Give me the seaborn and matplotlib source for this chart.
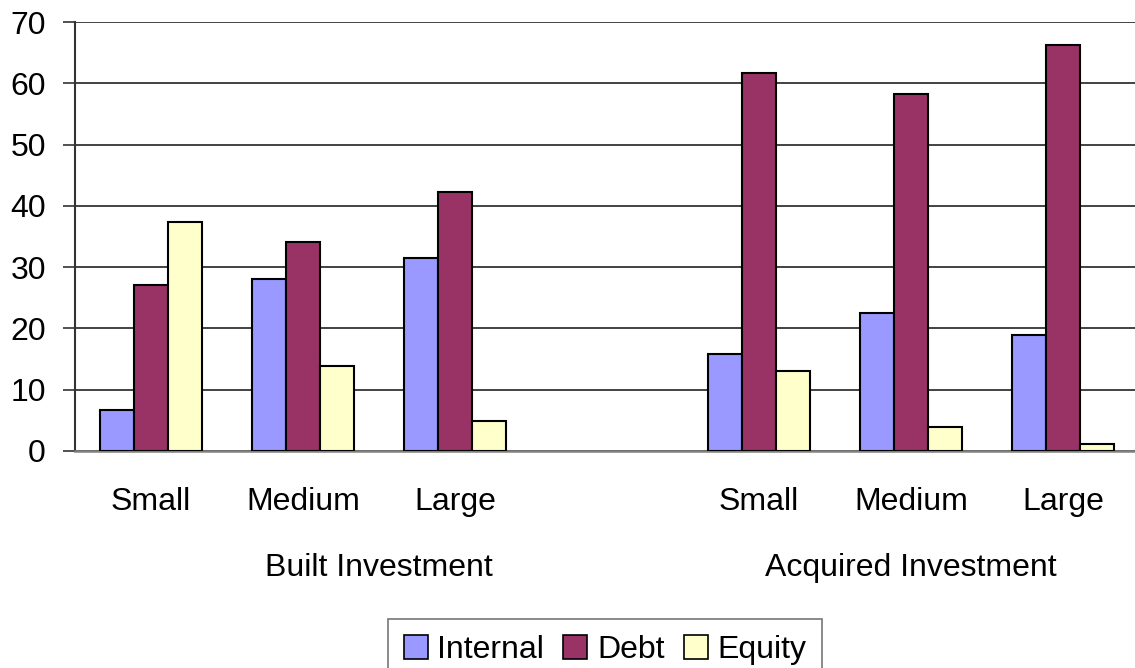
import numpy as np
import pandas as pd
import matplotlib
matplotlib.use('Agg')
import matplotlib.pyplot as plt
import matplotlib.transforms as mtransforms
import seaborn as sns

# data
sizes = ['Small', 'Medium', 'Large']
groups = ['Built Investment', 'Acquired Investment']
sources = ['Internal', 'Debt', 'Equity']
built_internal = [6.7, 28.0, 31.5]
built_debt = [27.1, 34.1, 42.2]
built_equity = [37.4, 13.8, 4.9]
acq_internal = [15.8, 22.5, 19.0]
acq_debt = [61.7, 58.2, 66.2]
acq_equity = [13.0, 3.9, 1.2]

colors = ['#9999FF', '#993366', '#FFFFCC']

rows = []
for grp, vals in zip(groups, [(built_internal, built_debt, built_equity),
                              (acq_internal, acq_debt, acq_equity)]):
    for src, series in zip(sources, vals):
        for size, v in zip(sizes, series):
            rows.append({'cat': f'{grp} {size}', 'source': src, 'value': v})
df = pd.DataFrame(rows)

# blank slot between the two groups, like the original
order = [f'Built Investment {s}' for s in sizes] + ['gap'] + \
        [f'Acquired Investment {s}' for s in sizes]

sns.set_style('white')
plt.rcParams['font.family'] = ['Liberation Sans', 'DejaVu Sans']
plt.rcParams['text.color'] = 'black'
plt.rcParams['xtick.labelcolor'] = 'black'
plt.rcParams['ytick.labelcolor'] = 'black'

fig = plt.figure(figsize=(11.35, 6.68), dpi=100)
ax = fig.add_axes([75 / 1135, 1 - 451 / 668, 1064 / 1135, 429 / 668])

sns.barplot(data=df, x='cat', y='value', hue='source', order=order,
            hue_order=sources, palette=colors, saturation=1, width=0.67, gap=0,
            edgecolor='black', linewidth=1.5, ax=ax, legend=False, zorder=3)

ax.set_ylim(0, 70)
ax.set_yticks(np.arange(0, 71, 10))
ax.set_xlim(-0.5, 6.5)
ax.yaxis.grid(True, color='#222222', linewidth=1.2, zorder=0)
ax.set_axisbelow(True)
for s in ['top', 'right']:
    ax.spines[s].set_visible(False)
ax.spines['left'].set_color('#333333')
ax.spines['left'].set_linewidth(1.5)
ax.spines['bottom'].set_color('#808080')
ax.spines['bottom'].set_linewidth(1.8)

ax.set_xticks(range(7))
ax.set_xticklabels(sizes + [''] + sizes)
ax.tick_params(axis='x', length=0, pad=26, labelsize=23)
ax.tick_params(axis='y', length=9, width=1.2, color='#333333', pad=12,
               labelsize=23, left=True)
ax.set_xlabel('')
ax.set_ylabel('')

# group labels under the size labels
trans = mtransforms.blended_transform_factory(ax.transData, fig.transFigure)
ax.text(1.5, 1 - 568 / 668, groups[0], transform=trans, ha='center',
        va='center', fontsize=23)
ax.text(5.0, 1 - 568 / 668, groups[1], transform=trans, ha='center',
        va='center', fontsize=23)

handles = [plt.Rectangle((0, 0), 1, 1, facecolor=c, edgecolor='black', linewidth=1.2)
           for c in colors]
leg = fig.legend(handles, sources, loc='upper center',
                 bbox_to_anchor=(605 / 1135, 1 - 619 / 668), ncol=3,
                 fontsize=23, frameon=True, fancybox=False, edgecolor='#555555',
                 handlelength=0.75, handleheight=0.75, handletextpad=0.3,
                 columnspacing=0.6, borderpad=0.5, borderaxespad=0)
leg.get_frame().set_linewidth(1.2)

fig.savefig('out.png', dpi=100)
